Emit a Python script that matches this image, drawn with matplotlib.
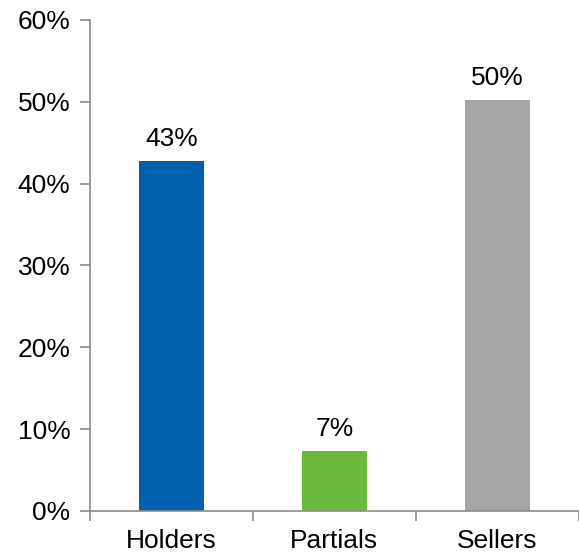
import matplotlib.pyplot as plt
from matplotlib.ticker import PercentFormatter

categories = ['Holders', 'Partials', 'Sellers']
values = [42.8, 7.3, 50.2]
labels = ['43%', '7%', '50%']
colors = ['#0060AE', '#6BBA3B', '#A6A6A6']

plt.rcParams['font.family'] = ['Liberation Sans', 'DejaVu Sans']

fig = plt.figure(figsize=(5.79, 5.53), dpi=100)
ax = fig.add_axes([0.155, 0.076, 0.845, 0.888])

x = range(len(categories))
bars = ax.bar(x, values, width=0.40, color=colors)
for b, lab in zip(bars, labels):
    ax.text(b.get_x() + b.get_width() / 2, b.get_height() + 1.2, lab,
            ha='center', va='bottom', fontsize=19)

ax.set_ylim(0, 60)
ax.set_xlim(-0.5, 2.5)
ax.set_yticks(range(0, 61, 10))
ax.yaxis.set_major_formatter(PercentFormatter(decimals=0))
ax.set_xticks([-0.5, 0.5, 1.5, 2.5])
ax.set_xticklabels([])
ax.set_xticks(list(x), minor=True)
ax.set_xticklabels(categories, minor=True)
ax.tick_params(axis='x', which='minor', length=0, labelsize=19, pad=13)
ax.tick_params(axis='x', which='major', length=7, color='#8C8C8C', width=1.2)
ax.tick_params(axis='y', length=7, color='#8C8C8C', width=1.2, labelsize=19, pad=7)

for s in ['top', 'right']:
    ax.spines[s].set_visible(False)
for s in ['left', 'bottom']:
    ax.spines[s].set_color('#8C8C8C')
    ax.spines[s].set_linewidth(1.2)

fig.savefig('out.png', dpi=100)
